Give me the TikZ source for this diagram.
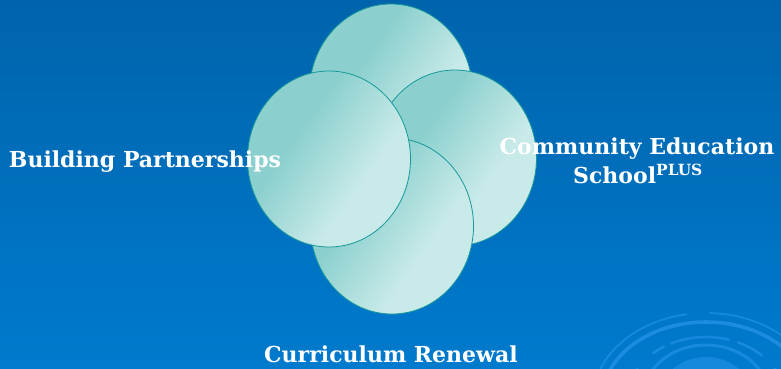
\documentclass[tikz,border=0pt]{standalone}
\usepackage{fontspec}
\setmainfont{DejaVu Serif}
\usetikzlibrary{shapes.geometric}
\definecolor{bgtop}{HTML}{0064AC}
\definecolor{bgbot}{HTML}{007ACD}
\definecolor{ringblue}{HTML}{2A98EC}
\definecolor{rimteal}{HTML}{16999A}
\definecolor{petalA}{HTML}{8BD0CE}
\definecolor{petalB}{HTML}{A6DCDA}
\definecolor{petalC}{HTML}{C8EAE8}
\pgfdeclarehorizontalshading{petal}{100bp}{%
  color(0bp)=(petalB);
  color(28bp)=(petalA);
  color(38bp)=(petalA);
  color(62bp)=(petalC);
  color(100bp)=(petalC)}
\tikzset{
  petalshape/.style={ellipse, draw=rimteal, line width=0.8pt,
    shading=petal, shading angle=-35,
    minimum width=163pt, minimum height=176pt, inner sep=0pt},
  caption/.style={text=white, font=\bfseries\fontsize{22}{29}\selectfont},
  ring/.style={draw=ringblue, line width=2.6pt, opacity=0.55, line cap=round}
}
\begin{document}
\begin{tikzpicture}[x=1pt, y=-1pt]
  \useasboundingbox (0,0) rectangle (781,368);
  % backdrop
  \shade[top color=bgtop, bottom color=bgbot] (0,0) rectangle (781,368);
  % ripple rings, lower right corner
  \begin{scope}
    \clip (0,0) rectangle (781,368);
    \begin{scope}[shift={(706,400)}, yscale=-1]
      % outer thin ring, broken at the top
      \draw[ring, line width=1.8pt] (170:113 and 87) arc[start angle=170, end angle=100, x radius=113, y radius=87];
      \draw[ring, line width=1.8pt] (88:113 and 87) arc[start angle=88, end angle=10, x radius=113, y radius=87];
      % bright full ring
      \draw[ring, line width=3.6pt, opacity=0.65] (180:104 and 78) arc[start angle=180, end angle=0, x radius=104, y radius=78];
      % dashed middle ring
      \draw[ring] (178:79 and 63) arc[start angle=178, end angle=150, x radius=79, y radius=63];
      \draw[ring] (132:79 and 63) arc[start angle=132, end angle=122, x radius=79, y radius=63];
      \draw[ring] (116:79 and 63) arc[start angle=116, end angle=73, x radius=79, y radius=63];
      \draw[ring] (66:79 and 63) arc[start angle=66, end angle=45, x radius=79, y radius=63];
      \draw[ring] (30:79 and 63) arc[start angle=30, end angle=5, x radius=79, y radius=63];
      % inner ring
      \draw[ring, line width=3pt] (180:64 and 55) arc[start angle=180, end angle=25, x radius=64, y radius=55];
      % centre
      \fill[ringblue, opacity=0.5] (0,0) ellipse[x radius=48, y radius=43];
    \end{scope}
  \end{scope}
  % four overlapping petals
  \node[petalshape] (pTop)    at (391,92)  {};
  \node[petalshape] (pRight)  at (455,158) {};
  \node[petalshape] (pBottom) at (392,226) {};
  \node[petalshape] (pLeft)   at (329,159) {};
  % captions
  \node[caption, anchor=base] (tBuild) at (145,167) {Building Partnerships};
  \node[caption, anchor=base] (tComm)  at (637,154) {Community Education};
  \node[caption, anchor=base] (tSchool) at (638,183) {School\textsuperscript{PLUS}};
  \node[caption, anchor=base] (tCurr)  at (391,362) {Curriculum Renewal};
\end{tikzpicture}
\end{document}
